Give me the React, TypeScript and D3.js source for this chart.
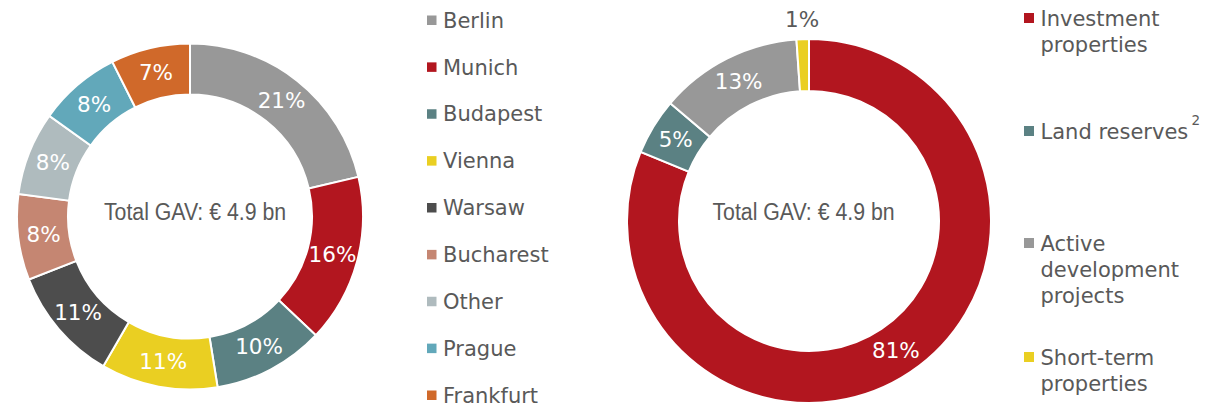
import React from 'react';
import * as d3 from 'd3';

const cityNames = ['Berlin', 'Munich', 'Budapest', 'Vienna', 'Warsaw', 'Bucharest', 'Other', 'Prague', 'Frankfurt'];
const cityShares = [21.3, 15.7, 10.4, 10.9, 10.7, 8.0, 7.8, 7.7, 7.4];
const cityColors = ['#989898', '#B2161F', '#5B8183', '#EACF22', '#4D4D4D', '#C58672', '#AFBBBE', '#62A8BA', '#D0692A'];

const assetNames = [['Investment', 'properties'], ['Land reserves'], ['Active', 'development', 'projects'], ['Short-term', 'properties']];
const assetShares = [81.2, 5.0, 12.7, 1.1];
const assetColors = ['#B2161F', '#5B8183', '#989898', '#EACF22'];
const assetLabelOutside = [false, false, false, true];

const centerText = 'Total GAV: € 4.9 bn';
const textColor = '#595959';
const labelFont = '"DejaVu Sans", Verdana, sans-serif';
const centerFont = '"Liberation Sans", Arial, sans-serif';

type Donut = { cx: number; cy: number; inner: number; outer: number; tx: number; ty: number };

function DonutChart({ values, colors, geom, outside }: { values: number[]; colors: string[]; geom: Donut; outside?: boolean[] }) {
  const total = d3.sum(values);
  const pie = d3.pie<number>().sort(null).value((d) => d).startAngle(0).endAngle(2 * Math.PI);
  const arcs = pie(values);
  const arc = d3.arc<d3.PieArcDatum<number>>().innerRadius(geom.inner).outerRadius(geom.outer);
  const outerArc = d3.arc<d3.PieArcDatum<number>>().innerRadius(geom.outer + 20).outerRadius(geom.outer + 20);
  return (
    <g>
      <g transform={`translate(${geom.cx},${geom.cy})`}>
        {arcs.map((a, i) => (
          <path key={i} d={arc(a) || ''} fill={colors[i]} stroke="#fff" strokeWidth={2} />
        ))}
        {arcs.map((a, i) => {
          const out = outside && outside[i];
          const [x, y] = out ? outerArc.centroid(a) : arc.centroid(a);
          return (
            <text key={'l' + i} x={x} y={y + 7.5} textAnchor="middle" fontFamily={labelFont} fontSize={21.5}
              fill={out ? textColor : '#fff'}>
              {Math.round((a.value / total) * 100) + '%'}
            </text>
          );
        })}
      </g>
      <text transform={`translate(${geom.tx},${geom.ty}) scale(1,1.1)`} x={0} y={0} textAnchor="middle"
        fontFamily={centerFont} fontSize={21.3} fill={textColor}>
        {centerText}
      </text>
    </g>
  );
}

export default function App() {
  const left: Donut = { cx: 190, cy: 216.5, inner: 122, outer: 173, tx: 195, ty: 220 };
  const right: Donut = { cx: 809, cy: 221, inner: 130, outer: 182, tx: 803.5, ty: 220 };
  const rowY = d3.scaleLinear().domain([0, cityNames.length - 1]).range([20, 395]);
  const assetY = [18, 131, 243, 357];
  const lineH = 26;
  return (
    <svg width={1208} height={406} style={{ position: 'absolute', left: 0, top: 0 }}>
      <rect width={1208} height={406} fill="#fff" />
      <DonutChart values={cityShares} colors={cityColors} geom={left} />
      <DonutChart values={assetShares} colors={assetColors} geom={right} outside={assetLabelOutside} />
      {cityNames.map((n, i) => (
        <g key={n}>
          <rect x={427} y={rowY(i) - 4.5} width={9.5} height={9.5} fill={cityColors[i]} />
          <text x={443} y={rowY(i) + 7.7} fontFamily={labelFont} fontSize={21} fill={textColor}>{n}</text>
        </g>
      ))}
      {assetNames.map((lines, i) => (
        <g key={i}>
          <rect x={1024} y={assetY[i] - 5} width={10} height={10} fill={assetColors[i]} />
          <text fontFamily={labelFont} fontSize={21} fill={textColor}>
            {lines.map((l, j) => (
              <tspan key={j} x={1040.5} y={assetY[i] + 8 + j * lineH}>{l}</tspan>
            ))}
          </text>
        </g>
      ))}
      <text x={1191.5} y={125} fontFamily={labelFont} fontSize={13.5} fill={textColor}>2</text>
    </svg>
  );
}
